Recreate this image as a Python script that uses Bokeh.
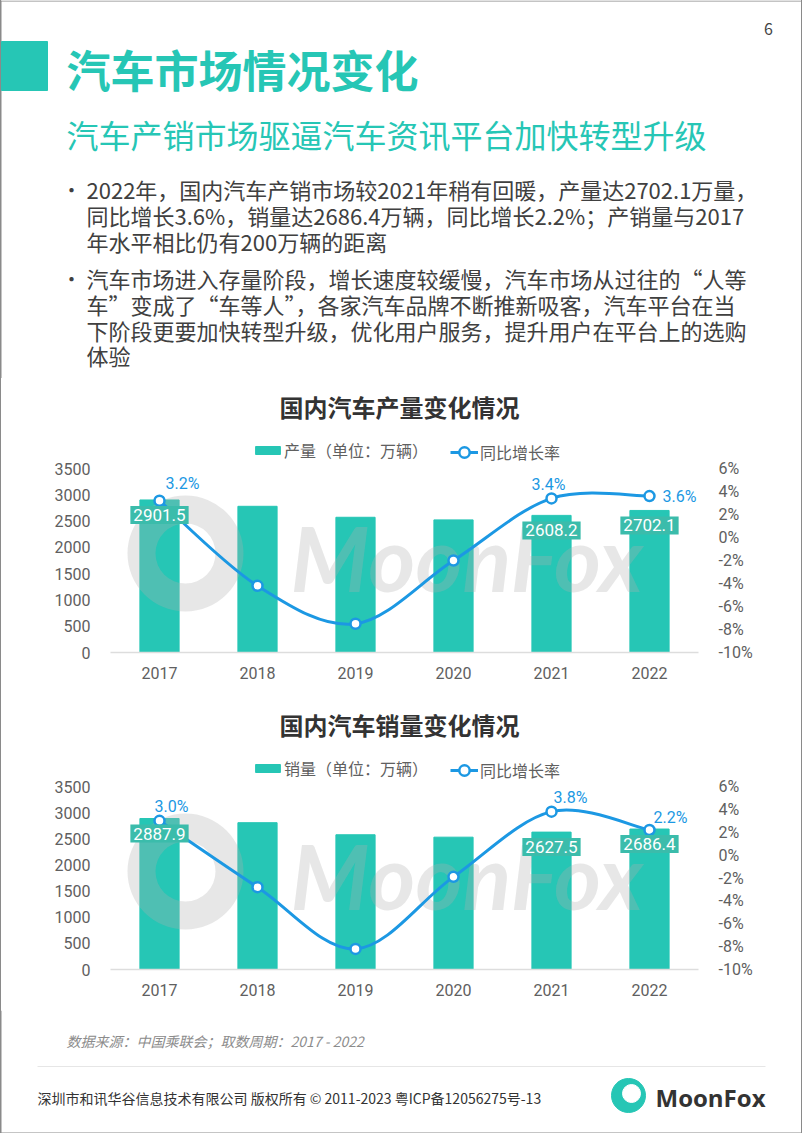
from bokeh.plotting import figure
from bokeh.layouts import column
from bokeh.models import (Range1d, LinearAxis, FixedTicker, PrintfTickFormatter,
                          Label, Legend, LegendItem)
from bokeh.core.properties import value
from bokeh.embed import file_html
from bokeh.resources import INLINE

# ---------------- data ----------------
years = ["2017", "2018", "2019", "2020", "2021", "2022"]
production = [2901.5, 2780.9, 2572.1, 2522.5, 2608.2, 2702.1]
production_growth = [3.2, -4.2, -7.5, -2.0, 3.4, 3.6]
sales = [2887.9, 2808.1, 2576.9, 2531.1, 2627.5, 2686.4]
sales_growth = [3.0, -2.8, -8.2, -1.9, 3.8, 2.2]
labelled = [0, 4, 5]
left_ticks = [0, 500, 1000, 1500, 2000, 2500, 3000, 3500]
right_ticks = [-10, -8, -6, -4, -2, 0, 2, 4, 6]

page_title = "汽车市场情况变化"
page_subtitle = "汽车产销市场驱逼汽车资讯平台加快转型升级"
bullet1 = ["2022年，国内汽车产销市场较2021年稍有回暖，产量达2702.1万量，",
           "同比增长3.6%，销量达2686.4万辆，同比增长2.2%；产销量与2017",
           "年水平相比仍有200万辆的距离"]
bullet2 = ["汽车市场进入存量阶段，增长速度较缓慢，汽车市场从过往的“人等",
           "车”变成了“车等人”，各家汽车品牌不断推新吸客，汽车平台在当",
           "下阶段更要加快转型升级，优化用户服务，提升用户在平台上的选购",
           "体验"]
chart1_title = "国内汽车产量变化情况"
chart2_title = "国内汽车销量变化情况"
chart1_legend = "产量（单位：万辆）"
chart2_legend = "销量（单位：万辆）"
growth_legend = "同比增长率"
source_note = "数据来源：中国乘联会；取数周期：2017 - 2022"
footer_note = "深圳市和讯华谷信息技术有限公司 版权所有 © 2011-2023 粤ICP备12056275号-13"

# ---------------- style ----------------
TEAL = "#26c6b5"
BOX = "#3bbcab"
BLUE = "#1c98e3"
GRAY = "#606060"
EDGE = "#8a8a8a"
CJK = "Noto Sans CJK SC"
NUM = "Roboto"
W = 802
PLOT_LEFT, SLOT = 110, 98   # page x of plot-area left edge, px per category


def transparent(p):
    p.border_fill_color = None
    p.background_fill_color = None
    p.outline_line_color = None
    p.grid.visible = False


def page_fig(top, bottom):
    p = figure(width=W, height=bottom - top, x_range=Range1d(0, W),
               y_range=Range1d(bottom, top), output_backend="svg",
               toolbar_location=None, x_axis_type=None, y_axis_type=None,
               min_border=0, frame_align=False)
    transparent(p)
    # page edge lines
    p.segment(x0=[0.5, W - 0.5], y0=[top, top], x1=[0.5, W - 0.5], y1=[bottom, bottom],
              line_color=EDGE, line_width=1)
    return p


# ---------------- header ----------------
hdr = page_fig(0, 378)
hdr.segment(x0=[0], y0=[0.5], x1=[W], y1=[0.5], line_color=EDGE, line_width=1)
hdr.quad(left=[1], right=[47], top=[41], bottom=[90], color=TEAL)
hdr.text(x=[66], y=[68], text=[page_title], text_font=value(CJK),
         text_font_size="44px", text_font_style="bold", text_color=TEAL,
         text_baseline="middle")
hdr.text(x=[66], y=[133], text=[page_subtitle], text_font=value(CJK),
         text_font_size="32px", text_color=TEAL, text_baseline="middle")
hdr.text(x=[768], y=[28], text=["6"], text_font=value(CJK),
         text_font_size="16px", text_color="#444444", text_baseline="middle",
         text_align="center")
b_y1 = [188, 214, 240]
b_y2 = [277, 303, 329, 354]
hdr.text(x=[86] * 3, y=b_y1, text=bullet1, text_font=value(CJK),
         text_font_size="22px", text_color="#404040", text_baseline="middle")
hdr.text(x=[86] * 4, y=b_y2, text=bullet2, text_font=value(CJK),
         text_font_size="22px", text_color="#404040", text_baseline="middle")
hdr.text(x=[71, 71], y=[b_y1[0] + 1, b_y2[0] + 1], text=["•", "•"], text_font=value(CJK),
         text_font_size="20px", text_color="#404040", text_baseline="middle",
         text_align="center")


# ---------------- charts ----------------
def smooth(xs, ys, k=1 / 6):
    n = len(xs)
    out = {k_: [] for k_ in ("x0", "y0", "x1", "y1", "cx0", "cy0", "cx1", "cy1")}
    for i in range(n - 1):
        a = i - 1 if i > 0 else i
        d = i + 2 if i + 2 < n else i + 1
        out["x0"].append(xs[i]); out["y0"].append(ys[i])
        out["x1"].append(xs[i + 1]); out["y1"].append(ys[i + 1])
        out["cx0"].append(xs[i] + (xs[i + 1] - xs[a]) * k)
        out["cy0"].append(ys[i] + (ys[i + 1] - ys[a]) * k)
        out["cx1"].append(xs[i + 1] - (xs[d] - xs[i]) * k)
        out["cy1"].append(ys[i + 1] - (ys[d] - ys[i]) * k)
    return out


def chart(values, growth, title, legend_label, pct_offsets, top, bottom,
          frame_top, frame_bottom):
    idx = list(range(len(years)))
    ph = frame_bottom - frame_top          # height of the tick span in px
    full = frame_bottom - top              # frame extends up to figure top
    lo, hi = left_ticks[0], left_ticks[-1]
    rlo, rhi = right_ticks[0], right_ticks[-1]
    p = figure(width=W, height=bottom - top,
               x_range=Range1d(-0.5, len(years) - 0.5),
               y_range=Range1d(lo, lo + (hi - lo) * full / ph),
               output_backend="svg", toolbar_location=None,
               min_border_left=PLOT_LEFT, min_border_right=W - PLOT_LEFT - SLOT * len(years),
               min_border_top=0, min_border_bottom=bottom - frame_bottom,
               frame_align=False)
    p.extra_y_ranges = {"pct": Range1d(rlo, rlo + (rhi - rlo) * full / ph)}
    transparent(p)

    def dx(px):
        return (px - PLOT_LEFT) / SLOT - 0.5

    def dy(py):
        return lo + (frame_bottom - py) / ph * (hi - lo)

    bars = p.vbar(x=idx, top=values, width=0.4, color=TEAL)

    # watermark (decoration)
    p.text(x=[dx(290)], y=[dy(frame_top + 88)], text=["MoonFox"], text_font=value("Lato"),
           text_font_size="90px", text_font_style="bold italic",
           text_color="#b0b0b0", text_alpha=0.3, text_baseline="middle")
    p.annulus(x=[dx(185)], y=[dy(frame_top + 85)], inner_radius=30, outer_radius=58,
              inner_radius_units="screen", outer_radius_units="screen",
              fill_color="#b0b0b0", fill_alpha=0.3, line_color=None)

    seg = smooth(idx, growth)
    line = p.bezier(x0=seg["x0"], y0=seg["y0"], x1=seg["x1"], y1=seg["y1"],
                    cx0=seg["cx0"], cy0=seg["cy0"], cx1=seg["cx1"], cy1=seg["cy1"],
                    y_range_name="pct", line_color=BLUE, line_width=3)
    dots = p.scatter(x=idx, y=growth, y_range_name="pct", size=10,
                     fill_color="white", line_color=BLUE, line_width=2.5)

    p.text(x=labelled, y=[values[i] for i in labelled],
           text=[f"{values[i]:.1f}" for i in labelled],
           text_font=value(NUM), text_font_size="17px", text_color="white",
           text_align="center", text_baseline="middle", y_offset=15,
           background_fill_color=BOX, padding=3)
    p.text(x=labelled, y=[growth[i] for i in labelled],
           text=[f"{growth[i]:.1f}%" for i in labelled], y_range_name="pct",
           x_offset=[o[0] for o in pct_offsets], y_offset=[o[1] for o in pct_offsets],
           text_font=value(NUM), text_font_size="16px", text_color=BLUE,
           text_align="center", text_baseline="middle")

    # axes
    p.xaxis.ticker = FixedTicker(ticks=idx)
    p.xaxis.major_label_overrides = {i: y for i, y in enumerate(years)}
    p.xaxis.axis_line_color = "#dddddd"
    p.xaxis.axis_line_width = 1.5
    p.xaxis.major_tick_line_color = None
    p.xaxis.minor_tick_line_color = None
    p.xaxis.major_label_standoff = 8
    p.xaxis.major_label_text_font = NUM
    p.xaxis.major_label_text_font_size = "16px"
    p.xaxis.major_label_text_color = GRAY

    p.yaxis.ticker = FixedTicker(ticks=left_ticks)
    p.yaxis.axis_line_color = None
    p.yaxis.major_tick_line_color = None
    p.yaxis.minor_tick_line_color = None
    p.yaxis.major_label_standoff = 14
    p.yaxis.major_label_text_font = NUM
    p.yaxis.major_label_text_font_size = "16px"
    p.yaxis.major_label_text_color = GRAY

    ra = LinearAxis(y_range_name="pct", ticker=FixedTicker(ticks=right_ticks),
                    formatter=PrintfTickFormatter(format="%d%%"))
    ra.axis_line_color = None
    ra.major_tick_line_color = None
    ra.minor_tick_line_color = None
    ra.major_label_standoff = 14
    ra.major_label_text_font = NUM
    ra.major_label_text_font_size = "16px"
    ra.major_label_text_color = GRAY
    p.add_layout(ra, "right")

    # title
    p.add_layout(Label(x=dx(399), y=dy(frame_top - 62), text=title, text_font=CJK,
                       text_font_size="24px", text_font_style="bold",
                       text_color="#333333", text_align="center",
                       text_baseline="middle"))
    # legends (location = bottom-left corner, px from plot-area bottom-left)
    ly = frame_bottom - (frame_top - 16)
    la = Legend(items=[LegendItem(label=legend_label, renderers=[bars])],
                location=(252 - PLOT_LEFT, ly - 10), orientation="horizontal",
                glyph_width=31, glyph_height=10, label_standoff=1, padding=0,
                margin=0, border_line_color=None, background_fill_alpha=0,
                label_text_font=CJK, label_text_font_size="16px",
                label_text_color=GRAY)
    lb = Legend(items=[LegendItem(label=growth_legend, renderers=[line, dots])],
                location=(450 - PLOT_LEFT, ly - 13), orientation="horizontal",
                glyph_width=28, glyph_height=26, label_standoff=2, padding=0,
                margin=0, border_line_color=None, background_fill_alpha=0,
                label_text_font=CJK, label_text_font_size="16px",
                label_text_color=GRAY)
    p.add_layout(la)
    p.add_layout(lb)
    return p


c1 = chart(production, production_growth, chart1_title, chart1_legend,
           [(23, -17), (-3, -14), (30, 0)], 378, 700, 468, 652)
c2 = chart(sales, sales_growth, chart2_title, chart2_legend,
           [(12, -14), (19, -14), (21, -12)], 700, 1010, 786, 969)

# ---------------- footer ----------------
ftr = page_fig(1010, 1133)
ftr.segment(x0=[0], y0=[1132.5], x1=[W], y1=[1132.5], line_color=EDGE, line_width=1)
ftr.text(x=[66], y=[1040], text=[source_note], text_font=value(CJK),
         text_font_size="14px", text_font_style="italic", text_color="#8c8c8c",
         text_baseline="middle")
ftr.segment(x0=[37], y0=[1066], x1=[765], y1=[1066], line_color="#e6e6e6",
            line_width=1)
ftr.text(x=[37], y=[1097], text=[footer_note], text_font=value(CJK),
         text_font_size="14px", text_color="#333333", text_baseline="middle")
ftr.circle(x=[628], y=[1095], radius=17, color=TEAL)
ftr.circle(x=[631], y=[1093], radius=9, color="white")
ftr.text(x=[655], y=[1097], text=["MoonFox"], text_font=value("Open Sans"),
         text_font_size="24px", text_font_style="bold", text_color="#333333",
         text_baseline="middle")

edge_bg = ("linear-gradient(to right, %s 0px, %s 1px, #ffffff 1px, #ffffff calc(100%% - 1px), "
           "%s calc(100%% - 1px), %s 100%%)" % (EDGE, EDGE, EDGE, EDGE))
layout = column(hdr, c1, c2, ftr, spacing=0, styles={"background": edge_bg})
open("out.html", "w").write(file_html(layout, INLINE))
